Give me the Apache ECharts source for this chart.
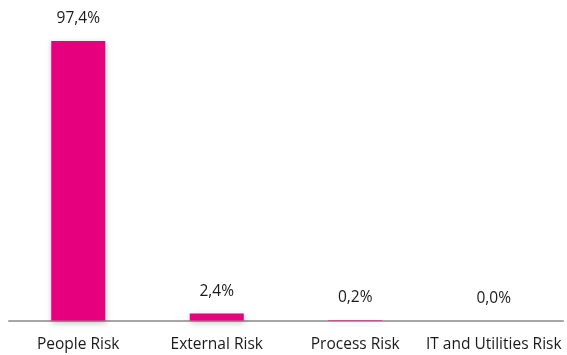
<!DOCTYPE html>
<html>
<head>
<meta charset="utf-8">
<script src="https://cdn.jsdelivr.net/npm/echarts@6/dist/echarts.min.js"></script>
<style>
  html, body { margin: 0; padding: 0; background: #fff; }
  #chart { width: 567px; height: 355px; }
</style>
</head>
<body>
<div id="chart"></div>
<script>
const categories = ['People Risk', 'External Risk', 'Process Risk', 'IT and Utilities Risk'];
const shares = [97.4, 2.4, 0.2, 0.0];

const chart = echarts.init(document.getElementById('chart'), null, { renderer: 'canvas' });

chart.setOption({
  animation: false,
  grid: { left: 9, right: 4, top: 41, bottom: 34.5 },
  xAxis: {
    type: 'category',
    data: categories,
    axisLine: { lineStyle: { color: '#a6a6a6', width: 2 } },
    axisTick: { show: false },
    axisLabel: {
      interval: 0,
      color: '#1a1a1a',
      fontFamily: 'Open Sans',
      fontSize: 15.5,
      margin: 16
    }
  },
  yAxis: {
    type: 'value',
    min: 0,
    max: 97.4,
    show: false,
    splitLine: { show: false }
  },
  series: [{
    type: 'bar',
    data: shares,
    barWidth: '39%',
    itemStyle: {
      color: '#e6007e',
      shadowColor: 'rgba(0,0,0,0.25)',
      shadowBlur: 6,
      shadowOffsetX: 1,
      shadowOffsetY: 2
    },
    label: {
      show: true,
      position: 'top',
      distance: 14,
      color: '#1a1a1a',
      fontFamily: 'Open Sans',
      fontSize: 15.5,
      formatter: p => p.value.toFixed(1).replace('.', ',') + '%'
    }
  }]
});
</script>
</body>
</html>
